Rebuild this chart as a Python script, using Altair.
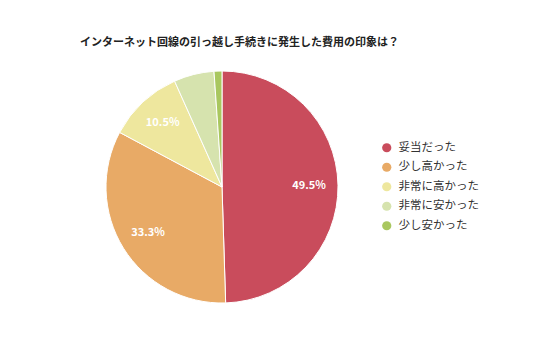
import altair as alt
import pandas as pd

categories = ["妥当だった", "少し高かった", "非常に高かった", "非常に安かった", "少し安かった"]
values = [49.5, 33.3, 10.5, 5.6, 1.1]
colors = ["#c94c5c", "#e8aa66", "#eee79e", "#d6e3ae", "#a9c75f"]

df = pd.DataFrame({
    "category": categories,
    "value": values,
    "order": list(range(len(categories))),
})
df["label"] = [f"{v:.1f}%" if v >= 10 else "" for v in values]

FONT = "Noto Sans CJK JP"
CX, CY, R = 214, 119, 116

base = alt.Chart(df).encode(
    theta=alt.Theta("value:Q", stack=True),
    order=alt.Order("order:Q"),
)

pie = base.mark_arc(x=CX, y=CY, outerRadius=R, stroke="white", strokeWidth=1).encode(
    color=alt.Color(
        "category:N",
        scale=alt.Scale(domain=categories, range=colors),
        sort=categories,
        legend=alt.Legend(
            title=None,
            orient="none",
            legendX=373,
            legendY=74,
            symbolType="circle",
            symbolSize=85,
            symbolStrokeWidth=0,
            labelFont=FONT,
            labelFontSize=11.5,
            labelColor="#333333",
            rowPadding=6.5,
            labelOffset=6,
        ),
    )
)

text = base.mark_text(
    x=CX, y=CY, radius=87, color="white", fontSize=11, fontWeight="bold", font=FONT
).encode(text="label:N")

chart = (
    alt.layer(pie, text)
    .properties(
        width=520,
        height=273,
        padding={"top": 60, "left": 0, "right": 0, "bottom": 0},
        autosize=alt.AutoSizeParams(type="none"),
        title=alt.TitleParams(
            "インターネット回線の引っ越し手続きに発生した費用の印象は？",
            anchor="start",
            frame="group",
            dx=72,
            offset=20,
            font=FONT,
            fontSize=11,
            fontWeight="bold",
            color="#222222",
        ),
    )
    .configure_view(stroke=None)
)

chart.save("out.html", embed_options={"renderer": "svg", "actions": False})
